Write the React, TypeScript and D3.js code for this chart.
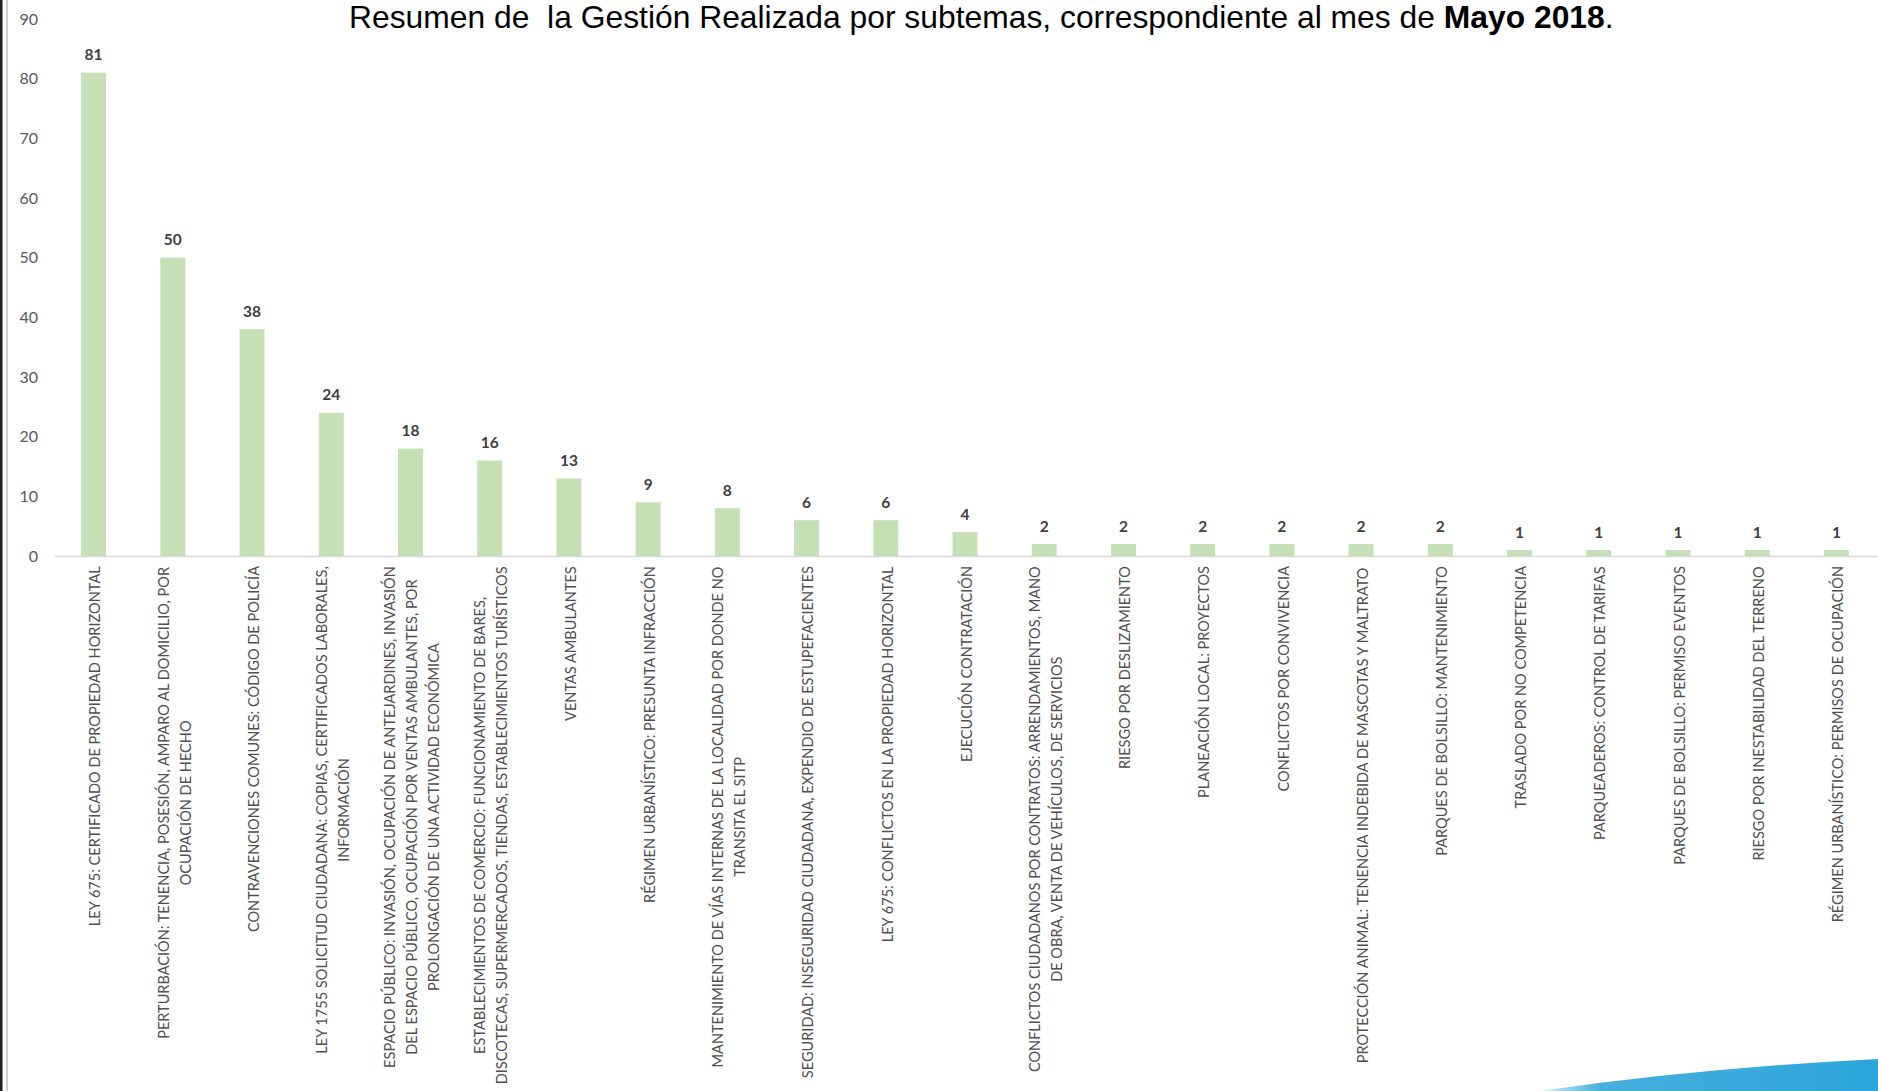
import React, { useMemo } from 'react';
import * as d3 from 'd3';

const categories: string[][] = [
  ['LEY 675: CERTIFICADO DE PROPIEDAD HORIZONTAL'],
  ['PERTURBACIÓN: TENENCIA, POSESIÓN, AMPARO AL DOMICILIO, POR', 'OCUPACIÓN DE HECHO'],
  ['CONTRAVENCIONES COMUNES: CÓDIGO DE POLICÍA'],
  ['LEY 1755 SOLICITUD CIUDADANA: COPIAS, CERTIFICADOS LABORALES,', 'INFORMACIÓN'],
  ['ESPACIO PÚBLICO: INVASIÓN, OCUPACIÓN DE ANTEJARDINES, INVASIÓN', 'DEL ESPACIO PÚBLICO, OCUPACIÓN POR VENTAS AMBULANTES, POR', 'PROLONGACIÓN DE UNA ACTIVIDAD ECONÓMICA'],
  ['ESTABLECIMIENTOS DE COMERCIO: FUNCIONAMIENTO DE BARES,', 'DISCOTECAS, SUPERMERCADOS, TIENDAS, ESTABLECIMIENTOS TURÍSTICOS'],
  ['VENTAS AMBULANTES'],
  ['RÉGIMEN URBANÍSTICO: PRESUNTA INFRACCIÓN'],
  ['MANTENIMIENTO DE VÍAS INTERNAS DE LA LOCALIDAD POR DONDE NO', 'TRANSITA EL SITP'],
  ['SEGURIDAD: INSEGURIDAD CIUDADANA, EXPENDIO DE ESTUPEFACIENTES'],
  ['LEY 675: CONFLICTOS EN LA PROPIEDAD HORIZONTAL'],
  ['EJECUCIÓN CONTRATACIÓN'],
  ['CONFLICTOS CIUDADANOS POR CONTRATOS: ARRENDAMIENTOS, MANO', 'DE OBRA, VENTA DE VEHÍCULOS, DE SERVICIOS'],
  ['RIESGO POR DESLIZAMIENTO'],
  ['PLANEACIÓN LOCAL: PROYECTOS'],
  ['CONFLICTOS POR CONVIVENCIA'],
  ['PROTECCIÓN ANIMAL: TENENCIA INDEBIDA DE MASCOTAS Y MALTRATO'],
  ['PARQUES DE BOLSILLO: MANTENIMIENTO'],
  ['TRASLADO POR NO COMPETENCIA'],
  ['PARQUEADEROS: CONTROL DE TARIFAS'],
  ['PARQUES DE BOLSILLO: PERMISO EVENTOS'],
  ['RIESGO POR INESTABILIDAD DEL TERRENO'],
  ['RÉGIMEN URBANÍSTICO: PERMISOS DE OCUPACIÓN'],
];

const values: number[] = [81, 50, 38, 24, 18, 16, 13, 9, 8, 6, 6, 4, 2, 2, 2, 2, 2, 2, 1, 1, 1, 1, 1];

const yTicks: number[] = [0, 10, 20, 30, 40, 50, 60, 70, 80, 90];

const titleNormal = 'Resumen de  la Gestión Realizada por subtemas, correspondiente al mes de ';
const titleBold = 'Mayo 2018';
const titleEnd = '.';

const W = 1878;
const H = 1091;

let ctx: CanvasRenderingContext2D | null = null;
function measure(text: string, font: string): number {
  if (!ctx) ctx = document.createElement('canvas').getContext('2d');
  if (!ctx) return text.length * 8;
  ctx.font = font;
  return ctx.measureText(text).width;
}

const LABEL_FONT = 'Lato, "Open Sans", sans-serif';
const TITLE_FONT = '"Liberation Sans", Arial, sans-serif';

export default function App() {
  const idx = d3.range(values.length);
  const x = d3
    .scaleBand<number>()
    .domain(idx)
    .range([54, 1876])
    .paddingInner(0.685)
    .paddingOuter(0.3425);
  const y = d3.scaleLinear().domain([0, 90]).range([556, 19]);

  const labelFontSize = useMemo(() => {
    const w = measure(categories[0][0], `16px Lato`);
    return (16 * 361) / w;
  }, []);

  const titleSize = 31;
  const titleScale = useMemo(() => {
    const w =
      measure(titleNormal, `${titleSize}px "Liberation Sans"`) +
      measure(titleBold, `bold ${titleSize}px "Liberation Sans"`) +
      measure(titleEnd, `${titleSize}px "Liberation Sans"`);
    return 1265 / w;
  }, []);

  const lineGap = 22;
  const labelTop = 566;

  return (
    <svg
      width={W}
      height={H}
      style={{ position: 'absolute', left: 0, top: 0, background: '#ffffff' }}
    >
      <defs>
        <linearGradient id="swoosh" x1="0" x2="1" y1="0" y2="0">
          <stop offset="0" stopColor="#d6eef9" />
          <stop offset="0.18" stopColor="#46afdd" />
          <stop offset="1" stopColor="#2da5da" />
        </linearGradient>
      </defs>
      <rect x={0} y={0} width={W} height={H} fill="#ffffff" />
      {/* left frame lines */}
      <rect x={0} y={0} width={2.5} height={H} fill="#1e1e1e" />
      <rect x={6} y={0} width={2} height={H} fill="#d2d2d2" />

      {/* title */}
      <text
        transform={`translate(349, 28) scale(${titleScale}, 1)`}
        fontFamily={TITLE_FONT}
        fontSize={titleSize}
        fill="#000000"
        style={{ whiteSpace: 'pre' }}
      >
        <tspan>{titleNormal}</tspan>
        <tspan fontWeight="bold">{titleBold}</tspan>
        <tspan>{titleEnd}</tspan>
      </text>

      {/* y tick labels */}
      {yTicks.map((t) => (
        <text
          key={t}
          x={38}
          y={y(t)}
          dy="0.36em"
          textAnchor="end"
          fontFamily={LABEL_FONT}
          fontSize={16}
          fill="#595959"
        >
          {t}
        </text>
      ))}

      {/* x axis line */}
      <line x1={55} x2={W} y1={y(0) + 0.5} y2={y(0) + 0.5} stroke="#d9d9d9" strokeWidth={1.5} />

      {/* bars */}
      {values.map((v, i) => (
        <rect
          key={i}
          x={x(i)}
          y={y(v)}
          width={x.bandwidth()}
          height={y(0) - y(v)}
          fill="#c5e0b4"
        />
      ))}

      {/* data labels */}
      {values.map((v, i) => (
        <text
          key={i}
          x={(x(i) as number) + x.bandwidth() / 2}
          y={y(v) - 12.5}
          textAnchor="middle"
          fontFamily={LABEL_FONT}
          fontWeight="bold"
          fontSize={15.5}
          fill="#404040"
        >
          {v}
        </text>
      ))}

      {/* category labels */}
      {categories.map((lines, i) => {
        const cx = (x(i) as number) + x.bandwidth() / 2 + 1.5;
        const maxLen = d3.max(lines, (l) => measure(l, `${labelFontSize}px Lato`)) as number;
        const cy = labelTop + maxLen / 2;
        const n = lines.length;
        return (
          <g key={i}>
            {lines.map((l, j) => (
              <text
                key={j}
                transform={`translate(${cx + (j - (n - 1) / 2) * lineGap}, ${cy}) rotate(-90)`}
                textAnchor="middle"
                dy="0.36em"
                fontFamily={LABEL_FONT}
                fontSize={labelFontSize}
                fill="#505050"
              >
                {l}
              </text>
            ))}
          </g>
        );
      })}

      {/* decorative swoosh bottom right */}
      <path d="M1540,1091 Q1700,1068 1878,1059 L1878,1091 Z" fill="url(#swoosh)" />
    </svg>
  );
}
